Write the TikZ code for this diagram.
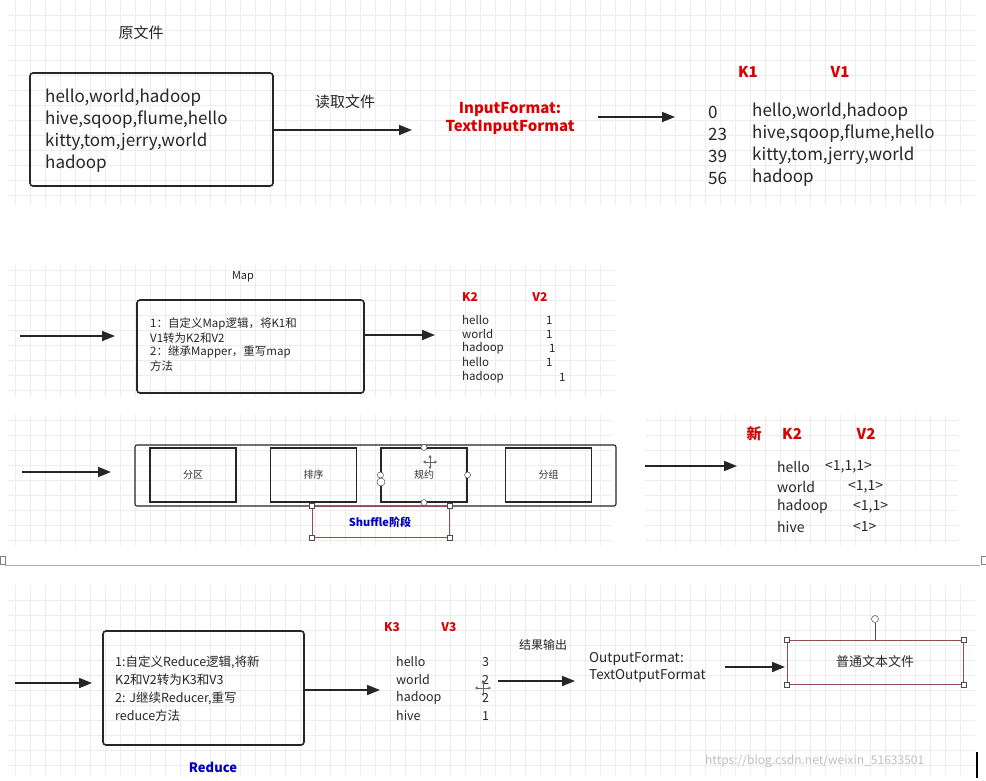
\documentclass[tikz,border=0pt]{standalone}
\usepackage{fontspec}
\setmainfont{Noto Sans CJK SC}
\usetikzlibrary{arrows.meta}
\begin{document}
\begin{tikzpicture}[x=1pt,y=-1pt,
 grd/.style={draw=black!7,line width=0.4pt},
 box/.style={draw=black!85,line width=1.6pt,rounded corners=3pt},
 ibox/.style={draw=black!85,line width=1.1pt},
 arr/.style={line width=1.8pt,draw=black!85,-{Triangle[length=13pt,width=10pt]}},
 t18/.style={font=\fontsize{17}{20}\selectfont,inner sep=0pt,anchor=west,text=black!85},
 t12/.style={font=\fontsize{11.5}{14}\selectfont,inner sep=0pt,anchor=west,text=black!85},
 t13/.style={font=\fontsize{12.5}{15}\selectfont,inner sep=0pt,anchor=west,text=black!85},
 red/.style={font=\bfseries\fontsize{15}{18}\selectfont,text=red!85!black,inner sep=0pt},
 redS/.style={font=\bfseries\fontsize{12}{14}\selectfont,text=red!85!black,inner sep=0pt},
 blu/.style={font=\bfseries\fontsize{11}{13}\selectfont,text=blue!75!black,inner sep=0pt},
 sel/.style={draw=red!40!black!70,line width=0.6pt},
 hnd/.style={draw=black!70,fill=white,line width=0.5pt,minimum size=5pt,inner sep=0pt},
 mv/.style={line width=0.6pt,draw=black!60,{Triangle[length=2.5pt,width=3pt]}-{Triangle[length=2.5pt,width=3pt]}},
]
\useasboundingbox (0,0) rectangle (986,780);
\fill[white] (0,0) rectangle (986,780);
% grid panels
\foreach \xa/\ya/\xb/\yb in {8/0/975/205, 8/265/615/397, 8/415/612/545, 645/415/958/545, 8/585/975/775}{
 \foreach \gx in {15,30,...,975}{\ifdim\gx pt>\xa pt\ifdim\gx pt<\xb pt\draw[grd] (\gx,\ya) -- (\gx,\yb);\fi\fi}
 \foreach \gy in {0,15,...,780}{\ifdim\gy pt>\ya pt\ifdim\gy pt<\yb pt\draw[grd] (\xa,\gy) -- (\xb,\gy);\fi\fi}
}
\draw[black!30] (5,565) -- (980,565);
\draw[black!50] (0,556) rectangle (5,564) (981,556) rectangle (986,564);
% ---- top
\node[font=\fontsize{15}{18}\selectfont,text=black!85] (yw) at (141,33) {原文件};
\node[box,minimum width=243pt,minimum height=113pt] (src) at (151.5,129.5) {};
\node[t18] (s1) at (45,98) {hello,world,hadoop};
\node[t18] (s2) at (45,120) {hive,sqoop,flume,hello};
\node[t18] (s3) at (45,142) {kitty,tom,jerry,world};
\node[t18] (s4) at (45,164) {hadoop};
\node[font=\fontsize{15}{18}\selectfont,text=black!85] (dq) at (345,102) {读取文件};
\node[red,align=center] (inf) at (510,118) {InputFormat:\\TextInputFormat};
\coordinate (ia) at (412,130);
\draw[arr] (src.east|-ia) -- (ia);
\coordinate (ib) at (675,117);
\draw[arr] (598,117) coordinate (ia0) -- (ib);
\node[red] (k1) at (748,72) {K1};
\node[red] (v1) at (840,72) {V1};
\foreach \k/\v/\y [count=\i] in {0/{hello,world,hadoop}/112,23/{hive,sqoop,flume,hello}/134,39/{kitty,tom,jerry,world}/156,56/hadoop/178}{
 \node[t18] (ka\i) at (708,\y) {\k};
 \node[t18] (va\i) at (752,\y) {\v};}
% ---- map
\node[font=\fontsize{11}{13}\selectfont,text=black!85] (mp) at (243,277) {Map};
\node[box,minimum width=227pt,minimum height=93pt] (mbox) at (250.5,346.5) {};
\node[t12] (m1) at (150,324) {1：自定义Map逻辑，将K1和};
\node[t12] (m2) at (150,338) {V1转为K2和V2};
\node[t12] (m3) at (150,352) {2：继承Mapper，重写map};
\node[t12] (m4) at (150,366) {方法};
\draw[arr] (20,336) coordinate (ma) -- (115,336);
\draw[arr] (364,335) coordinate (mo) -- (435,335) coordinate (mt);
\node[redS] (k2) at (470,297) {K2};
\node[redS] (v2) at (540,297) {V2};
\foreach \w/\x/\y [count=\i] in {hello/546/320,world/546/334,hadoop/549/348,hello/546/362,hadoop/559/377}{
 \node[t12] (w\i) at (462,\y) {\w};
 \node[t12] (o\i) at (\x,\y) {1};}
% ---- shuffle
\node[ibox,rounded corners=2pt,minimum width=481pt,minimum height=61pt] (outer) at (375.5,475.5) {};
\draw[arr] (22,472) coordinate (sa) -- (111,472);
\foreach \n/\l/\x in {p1/分区/193,p2/排序/313.5,p3/规约/424,p4/分组/548.5}
 \node[ibox,minimum width=86pt,minimum height=54pt,font=\fontsize{10}{12}\selectfont,text=black!80] (\n) at (\x,475) {\l};
\node[sel,minimum width=137pt,minimum height=31pt] (shf) at (380.5,521.5) {};
\node[blu] (shl) at (380,522) {Shuffle阶段};
\foreach \a in {north west,north east,south west,south east} \node[hnd] at (shf.\a) {};
\foreach \a in {north,south,east,west} \node[hnd,circle,minimum size=6pt] at (p3.\a) {};
\node[hnd,circle,minimum size=8pt] at (381,482) {};
\draw[mv] (423,462) -- (437,462); \draw[mv] (430,455) -- (430,469);
% ---- right panel
\draw[arr] (645,466) coordinate (ra) -- (737,466) coordinate (rb);
\node[red] (xin) at (754,434) {新};
\node[red] (k2b) at (792,434) {K2};
\node[red] (v2b) at (866,434) {V2};
\foreach \w/\v/\x/\y [count=\i] in {hello/{<1,1,1>}/825/467,world/{<1,1>}/848/487,hadoop/{<1,1>}/853/507,hive/{<1>}/853/527}{
 \node[t13,font=\fontsize{14}{16}\selectfont] (rw\i) at (777,\y) {\w};
 \node[t13,font=\fontsize{14}{16}\selectfont] (rv\i) at (\x,\y) {\v};}
% ---- reduce
\node[box,minimum width=201pt,minimum height=114pt] (rbox) at (203.5,688) {};
\node[t13] (r1) at (115,662) {1:自定义Reduce逻辑,将新};
\node[t13] (r2) at (115,680) {K2和V2转为K3和V3};
\node[t13] (r3) at (115,698) {2:  J继续Reducer,重写};
\node[t13] (r4) at (115,716) {reduce方法};
\draw[arr] (15,683) coordinate (qa) -- (92,683);
\draw[arr] (304,690) coordinate (ro) -- (380,690);
\node[redS] (k3) at (392,627) {K3};
\node[redS] (v3) at (449,627) {V3};
\foreach \w/\v/\y [count=\i] in {hello/3/662,world/2/680,hadoop/2/698,hive/1/716}{
 \node[t13] (tw\i) at (396,\y) {\w};
 \node[t13] (tv\i) at (482,\y) {\v};}
\draw[mv] (475,688) -- (491,688); \draw[mv] (483,680) -- (483,696);
\draw[arr] (498,681) coordinate (xa) -- (575,681);
\node[font=\fontsize{12}{14}\selectfont,text=black!85] (jg) at (543,645) {结果输出};
\node[t13,font=\fontsize{13.5}{17}\selectfont,align=left] (of) at (589,667) {OutputFormat:\\TextOutputFormat};
\draw[arr] (725,667) -- (785,667);
\node[sel,minimum width=176pt,minimum height=44pt,font=\fontsize{13}{15}\selectfont,text=black!85] (txt) at (875,662) {普通文本文件};
\foreach \a in {north west,north east,south west,south east} \node[hnd] at (txt.\a) {};
\node[hnd,circle,minimum size=7pt] (rot) at (875,619) {};
\draw[black!70] (rot) -- (txt.north);
\node[blu,font=\bfseries\fontsize{13}{15}\selectfont] (red) at (213,767) {Reduce};
\node[font=\fontsize{12}{14}\selectfont,text=black!25,anchor=west,inner sep=0pt] (wm) at (705,761) {https://blog.csdn.net/weixin\_51633501};
\draw[line width=1.5pt] (977,752) -- (977,778);
\end{tikzpicture}
\end{document}
